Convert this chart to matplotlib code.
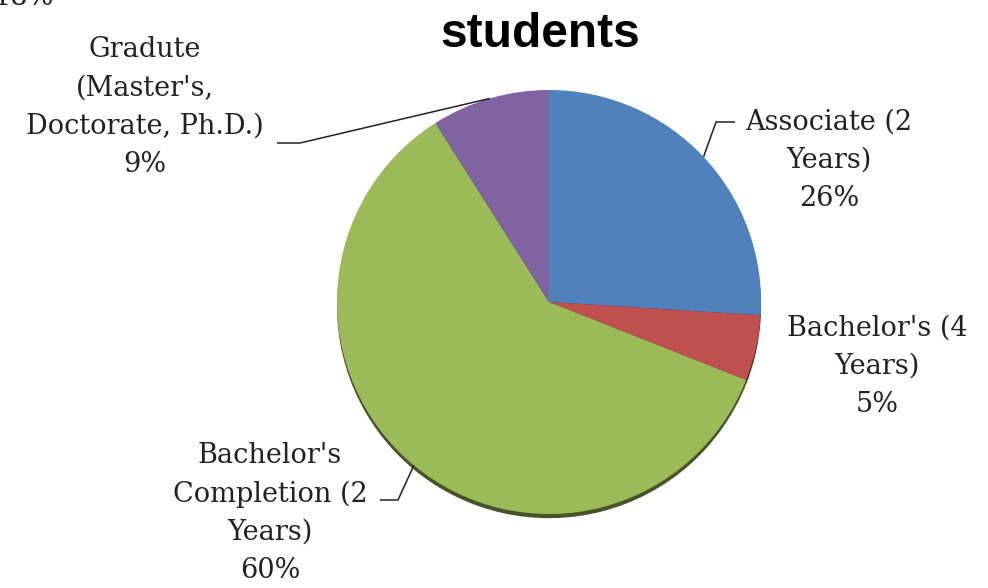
import numpy as np
import matplotlib.pyplot as plt

# data
categories = ["Associate (2\nYears)", "Bachelor's (4\nYears)",
              "Bachelor's\nCompletion (2\nYears)",
              "Gradute\n(Master's,\nDoctorate, Ph.D.)"]
shares = [26, 5, 60, 9]
colors = ["#4F81BD", "#C0504D", "#9BBB59", "#8064A2"]

W, H = 988, 588
CX, CY, R = 549, 302, 212   # pie centre / radius in pixels (y from top)


def py(y):
    return H - y


fig = plt.figure(figsize=(W / 100, H / 100), dpi=100)
ax = fig.add_axes([0, 0, 1, 1])

wedges, _ = ax.pie(shares, colors=colors, startangle=90, counterclock=False,
                   radius=R, center=(CX, py(CY)),
                   wedgeprops={"linewidth": 0},
                   shadow={"ox": 0, "oy": -3, "shade": 0.55, "alpha": 1})
ax.set_xlim(0, W)
ax.set_ylim(0, H)
ax.set_aspect("equal")
ax.axis("off")

serif = dict(family="DejaVu Serif", fontsize=19.5, color="#222222",
             ha="center", va="center", multialignment="center", linespacing=1.54)

# label centres (pixels) and leader line elbows
label_pos = [(829, 160), (877, 366), (270, 513), (145, 107)]
leaders = {0: [(716, 122), (735, 122)],
           2: [(398, 500), (380, 500)],
           3: [(300, 143), (277, 143)]}

for i, (w, cat, s) in enumerate(zip(wedges, categories, shares)):
    x, y = label_pos[i]
    ax.text(x, py(y), f"{cat}\n{s}%", **serif)
    if i in leaders:
        mid = np.deg2rad((w.theta1 + w.theta2) / 2)
        ax0 = CX + R * np.cos(mid)
        ay0 = py(CY) + R * np.sin(mid)
        pts = [(ax0, ay0)] + [(px, py(pyy)) for px, pyy in leaders[i]]
        ax.plot([p[0] for p in pts], [p[1] for p in pts], color="#222222",
                lw=1.1, solid_capstyle="butt")

# title (second line only, first is cropped off)
ax.text(540, py(47), "students", family="Liberation Sans", fontweight="bold",
        fontsize=34.5, ha="center", va="baseline", color="black")
# remnant of a label cropped at the top edge
ax.text(-6, py(5), "18%", family="DejaVu Serif", fontsize=19.5,
        color="#222222", ha="left", va="baseline")

fig.savefig("out.png", dpi=100, facecolor="white")
